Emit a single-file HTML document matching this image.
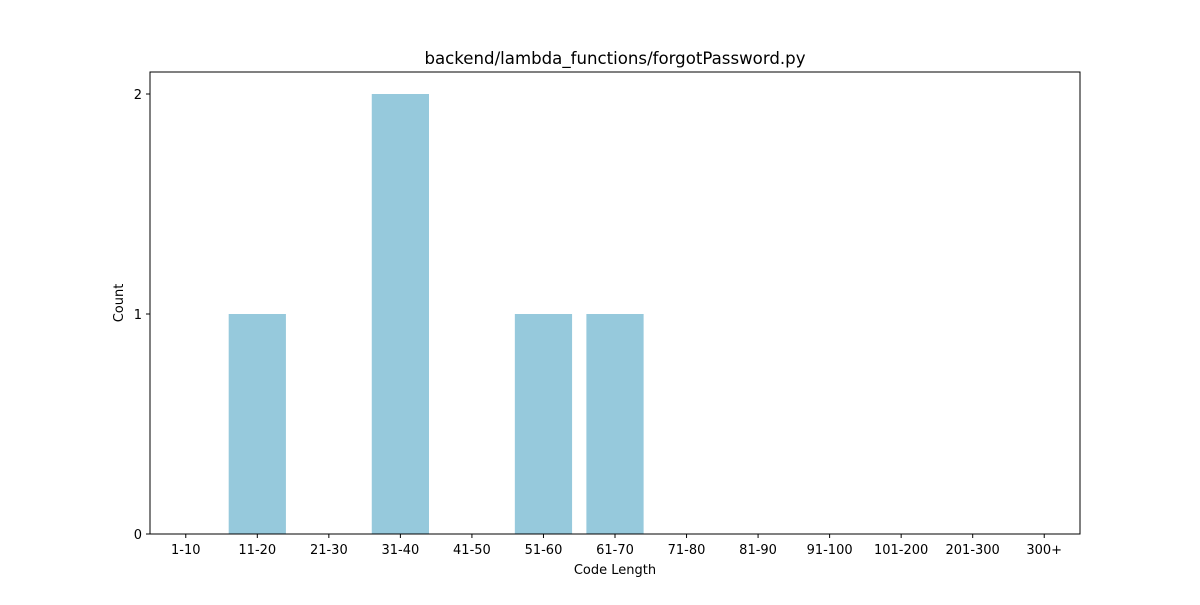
<!DOCTYPE html>
<html><head><meta charset="utf-8"><style>
html,body{margin:0;padding:0;background:#fff;}
svg text{font-family:"DejaVu Sans","Liberation Sans",sans-serif;fill:#000;}
</style></head><body>
<svg id="chart" width="1200" height="600" xmlns="http://www.w3.org/2000/svg">
<rect width="1200" height="600" fill="#fff"/>
<text x="615" y="64" font-size="16.6" text-anchor="middle">backend/lambda_functions/forgotPassword.py</text>
<g id="bars"></g>
<g id="xticks"></g>
<g id="yticks"></g>
<rect x="150" y="72" width="930" height="462" fill="none" stroke="#000" stroke-width="1"/>
<text x="615" y="574" font-size="13" text-anchor="middle">Code Length</text>
<text transform="translate(123,303) rotate(-90)" font-size="13" text-anchor="middle">Count</text>
</svg>
<script>
const categories = ["1-10","11-20","21-30","31-40","41-50","51-60","61-70","71-80","81-90","91-100","101-200","201-300","300+"];
const counts = [0,1,0,2,0,1,1,0,0,0,0,0,0];
const yTicks = [0,1,2];

const L=150,R=1080,T=72,B=534;
const xMin=-0.5,xMax=categories.length-0.5,yMin=0,yMax=2.1;
const xs=i=>L+(i-xMin)/(xMax-xMin)*(R-L);
const ys=v=>B-(v-yMin)/(yMax-yMin)*(B-T);
const NS="http://www.w3.org/2000/svg";
const bars=document.getElementById('bars'),xt=document.getElementById('xticks'),yt=document.getElementById('yticks');
function mk(tag,attrs){const e=document.createElementNS(NS,tag);for(const k in attrs)e.setAttribute(k,attrs[k]);return e;}
const bw=0.8*(R-L)/(xMax-xMin);
categories.forEach((c,i)=>{
  const v=counts[i];
  if(v>0){
    const r=mk('rect',{x:xs(i)-bw/2,y:ys(v),width:bw,height:ys(0)-ys(v),fill:'#96c9dc'});
    
    
    bars.appendChild(r);
  }
  const t=mk('line',{x1:xs(i),x2:xs(i),y1:B,y2:B+4,stroke:'#000'});
  
  
  xt.appendChild(t);
  const l=mk('text',{x:xs(i),y:B+20,'font-size':13,'text-anchor':'middle'});
  l.textContent=c;
  
  
  xt.appendChild(l);
});
yTicks.forEach(v=>{
  const t=mk('line',{x1:L-4,x2:L,y1:ys(v),y2:ys(v),stroke:'#000'});
  
  
  yt.appendChild(t);
  const l=mk('text',{x:L-8,y:ys(v)+5,'font-size':13,'text-anchor':'end'});
  l.textContent=v;
  
  
  yt.appendChild(l);
});
</script>
</body></html>
